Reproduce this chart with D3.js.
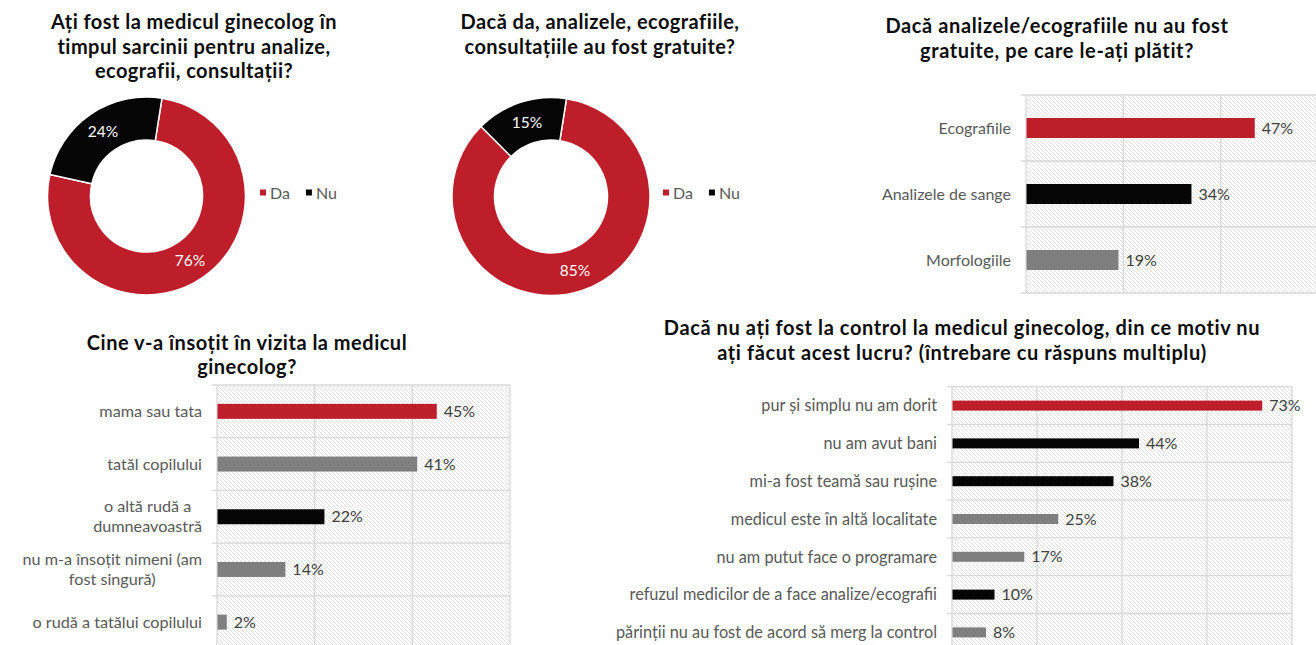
<!DOCTYPE html>
<html lang="ro">
<head>
<meta charset="utf-8">
<script src="https://cdn.jsdelivr.net/npm/d3@7"></script>
<style>
  html, body { margin: 0; padding: 0; background: #fff; }
  svg { display: block; font-family: Lato, "Open Sans", sans-serif; }
</style>
</head>
<body>
<svg id="chart" width="1316" height="645"></svg>
<script>
// ---- data ----
const answerLabels = ["Da", "Nu"];
const visitValues = [76, 24];
const freeValues = [85, 15];

const paidCategories = ["Ecografiile", "Analizele de sange", "Morfologiile"];
const paidValues = [47, 34, 19];

const companyCategories = [
  ["mama sau tata"],
  ["tatăl copilului"],
  ["o altă rudă a", "dumneavoastră"],
  ["nu m-a însoțit nimeni (am", "fost singură)"],
  ["o rudă a tatălui copilului"]
];
const companyValues = [45, 41, 22, 14, 2];

const reasonCategories = [
  "pur și simplu nu am dorit",
  "nu am avut bani",
  "mi-a fost teamă sau rușine",
  "medicul este în altă localitate",
  "nu am putut face o programare",
  "refuzul medicilor de a face analize/ecografii",
  "părinții nu au fost de acord să merg la control"
];
const reasonValues = [73, 44, 38, 25, 17, 10, 8];

// ---- styles ----
const RED = "#be1e2a", BLACK = "#050505", GRAY = "#7f7f7f";
const answerColors = [RED, BLACK];
const paidColors = [RED, BLACK, GRAY];
const companyColors = [RED, GRAY, BLACK, GRAY, GRAY];
const reasonColors = [RED, BLACK, BLACK, GRAY, GRAY, BLACK, GRAY];
const GRID = "#d9d9d9";
const LABEL = "#595959";
const VALUE = "#404040";

const svg = d3.select("#chart");

// hatched plot-area background
const defs = svg.append("defs");
const pat = defs.append("pattern")
  .attr("id", "hatch").attr("patternUnits", "userSpaceOnUse")
  .attr("width", 4).attr("height", 4);
pat.append("rect").attr("width", 4).attr("height", 4).attr("fill", "#fff");
pat.append("path")
  .attr("d", "M0,0L4,4M-1,3L1,5M3,-1L5,1")
  .attr("stroke", "#dedede").attr("stroke-width", 0.9);

function title(lines, cx, y0, lh, ls) {
  const t = svg.append("text")
    .attr("text-anchor", "middle")
    .attr("font-weight", 700).attr("font-size", 20).attr("letter-spacing", ls)
    .attr("fill", "#0d0d0d");
  lines.forEach((l, i) => t.append("tspan").attr("x", cx).attr("y", y0 + i * lh).text(l));
}

// ---- donuts ----
function donut(values, cx, cy, rOut, rIn, legendX, legendY) {
  const pie = d3.pie().sort(null).startAngle(9 * Math.PI / 180)
    .endAngle(9 * Math.PI / 180 + 2 * Math.PI);
  const arc = d3.arc().innerRadius(rIn).outerRadius(rOut);
  const mid = d3.arc().innerRadius((rIn + rOut) / 2).outerRadius((rIn + rOut) / 2);
  const g = svg.append("g").attr("transform", `translate(${cx},${cy})`);
  const arcs = pie(values);
  g.selectAll("path").data(arcs).join("path")
    .attr("d", arc)
    .attr("fill", (d, i) => answerColors[i])
    .attr("stroke", "#fff").attr("stroke-width", 1.5);
  g.selectAll("text").data(arcs).join("text")
    .attr("transform", d => `translate(${mid.centroid(d)})`)
    .attr("text-anchor", "middle").attr("dy", "0.35em")
    .attr("fill", "#fff").attr("font-size", 15.5)
    .text(d => d.data + "%");
  // legend
  const lg = svg.append("g").attr("transform", `translate(${legendX},${legendY})`);
  let x = 0;
  answerLabels.forEach((lab, i) => {
    lg.append("rect").attr("x", x).attr("y", -3.5).attr("width", 6).attr("height", 6)
      .attr("fill", answerColors[i]);
    const t = lg.append("text").attr("x", x + 10).attr("dy", "0.35em")
      .attr("font-size", 16).attr("fill", LABEL).text(lab);
    x += 10 + t.node().getComputedTextLength() + 16;
  });
}

// ---- horizontal bars ----
function bars(o) {
  const n = o.cats.length;
  const x = d3.scaleLinear().domain([0, o.max]).range([o.x0, o.x1]);
  const y = d3.scaleBand().domain(d3.range(n)).range([o.top, o.top + n * o.band]).padding(0);
  const g = svg.append("g");
  const bottom = o.top + n * o.band;
  g.append("rect").attr("x", o.x0).attr("y", o.top)
    .attr("width", o.x1 - o.x0).attr("height", bottom - o.top).attr("fill", "url(#hatch)");
  // vertical gridlines
  g.selectAll("line.v").data(d3.range(0, o.max + 1, 20)).join("line")
    .attr("x1", d => x(d)).attr("x2", d => x(d))
    .attr("y1", o.top).attr("y2", bottom)
    .attr("stroke", GRID).attr("stroke-width", 1.3);
  // category boundaries with short ticks
  g.selectAll("line.h").data(d3.range(n + 1)).join("line")
    .attr("x1", o.x0 - 5).attr("x2", o.x1)
    .attr("y1", i => o.top + i * o.band).attr("y2", i => o.top + i * o.band)
    .attr("stroke", GRID).attr("stroke-width", 1.3);
  // bars
  g.selectAll("rect.bar").data(o.vals).join("rect")
    .attr("x", o.x0 + 0.5)
    .attr("y", (d, i) => y(i) + y.bandwidth() / 2 - o.barH / 2)
    .attr("width", d => x(d) - x(0) - 0.5)
    .attr("height", o.barH)
    .attr("fill", (d, i) => o.colors[i]);
  // values
  g.selectAll("text.val").data(o.vals).join("text")
    .attr("x", d => x(d) + 7)
    .attr("y", (d, i) => y(i) + y.bandwidth() / 2)
    .attr("dy", "0.35em").attr("font-size", o.vfs).attr("fill", VALUE)
    .text(d => d + "%");
  // category labels (multi-line labels centred on their widest line)
  o.cats.forEach((c, i) => {
    const lines = Array.isArray(c) ? c : [c];
    const cy = y(i) + y.bandwidth() / 2;
    const t = g.append("text").attr("font-size", o.fs).attr("fill", LABEL);
    const spans = lines.map((l, k) => t.append("tspan")
      .attr("y", cy + (k - (lines.length - 1) / 2) * o.lh).attr("dy", "0.35em").text(l));
    if (lines.length === 1) {
      t.attr("text-anchor", "end");
      spans[0].attr("x", o.labelRight);
    } else {
      const w = d3.max(spans, s => s.node().getComputedTextLength());
      t.attr("text-anchor", "middle");
      spans.forEach(s => s.attr("x", o.labelRight - w / 2));
    }
  });
}

// chart 1
title(["Ați fost la medicul ginecolog în", "timpul sarcinii pentru analize,", "ecografii, consultații?"], 194, 29, 24.5, 0.45);
donut(visitValues, 146.5, 196, 99, 56, 260, 193);

// chart 2
title(["Dacă da, analizele, ecografiile,", "consultațiile au fost gratuite?"], 600, 29, 24.5, 0.45);
donut(freeValues, 551, 196.5, 99, 56.5, 663, 193);

// chart 3
title(["Dacă analizele/ecografiile nu au fost", "gratuite, pe care le-ați plătit?"], 1057, 33, 25, 0.6);
bars({ cats: paidCategories, vals: paidValues, colors: paidColors,
  x0: 1026, x1: 1318, max: 60, top: 95, band: 66, barH: 20,
  labelRight: 1011, fs: 16, vfs: 16, lh: 20 });

// chart 4
title(["Cine v-a însoțit în vizita la medicul", "ginecolog?"], 247, 350, 23.5, 0.5);
bars({ cats: companyCategories, vals: companyValues, colors: companyColors,
  x0: 217, x1: 510, max: 60, top: 385, band: 52.7, barH: 15,
  labelRight: 202, fs: 16.2, vfs: 16, lh: 20 });

// chart 5
title(["Dacă nu ați fost la control la medicul ginecolog, din ce motiv nu",
       "ați făcut acest lucru? (întrebare cu răspuns multiplu)"], 962, 335, 25, 0.6);
bars({ cats: reasonCategories, vals: reasonValues, colors: reasonColors,
  x0: 952, x1: 1292, max: 80, top: 386.7, band: 37.8, barH: 10,
  labelRight: 937, fs: 16.3, vfs: 16, lh: 20 });
</script>
</body>
</html>
